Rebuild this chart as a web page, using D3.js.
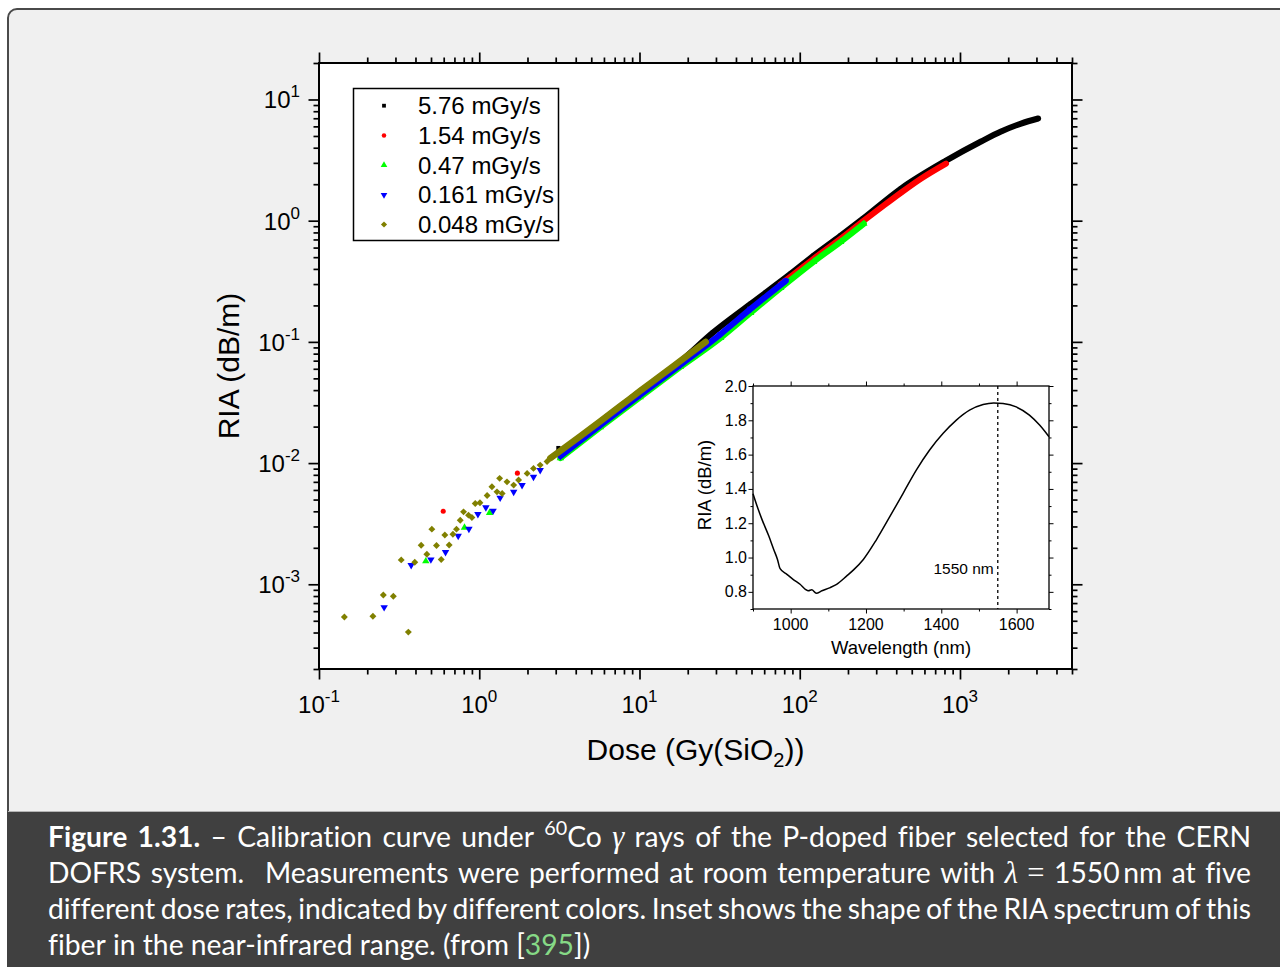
<!DOCTYPE html>
<html>
<head>
<meta charset="utf-8">
<script src="https://cdn.jsdelivr.net/npm/d3@7"></script>
<style>
  html, body { margin: 0; padding: 0; background: #ffffff; }
  svg { display: block; }
  .cap text { font-variant-ligatures: no-common-ligatures; }
</style>
</head>
<body>
<svg id="chart" width="1280" height="967"></svg>
<script>
// ------------------------------------------------------------------
// Data: RIA (dB/m) versus dose (Gy(SiO2)) for five dose rates
// ------------------------------------------------------------------
const seriesNames  = ["5.76 mGy/s", "1.54 mGy/s", "0.47 mGy/s", "0.161 mGy/s", "0.048 mGy/s"];
const seriesColors = ["#000000", "#ff0000", "#00ff00", "#0000ff", "#808000"];

// dense part of each measurement run: [dose, RIA]
const trace576 = [[5.71,0.0220],[10.1,0.0390],[18.0,0.0690],[28.6,0.1187],[49.4,0.206],
  [87.9,0.365],[122,0.514],[180,0.752],[248,1.039],[428,1.84],[818,3.13],[1353,4.50],[1804,5.44],
  [2406,6.33],[3073,6.97]];
const trace154 = [[76.1,0.299],[122,0.485],[180,0.710],[251,1.00],[321,1.28],[428,1.70],[570,2.22],[818,2.96]];
const trace047 = [[3.21,0.0110],[5.71,0.0198],[10.1,0.0351],[18.0,0.0621],[32.1,0.108],[49.4,0.174],
  [76.1,0.279],[122,0.458],[180,0.670],[251,0.944]];
const trace0161 = [[3.21,0.0114],[5.71,0.0206],[10.1,0.0365],[18.0,0.0646],[32.1,0.116],[49.4,0.187],[81.8,0.319]];
const trace0048 = [[2.78,0.0110],[4.28,0.0167],[5.71,0.0222],[7.61,0.0296],[10.1,0.0394],[13.5,0.0524],
  [18.0,0.0697],[25.9,0.100]];

// sparse low-dose points: [dose, RIA]
const scatter576 = [[3.12,0.0133]];
const scatter154 = [[0.596,0.00401],[1.73,0.00826]];
const scatter047 = [[0.464,0.00155],[0.809,0.00294],[1.16,0.00388]];
const scatter0161 = [[0.255,0.000646],[0.376,0.00144],[0.499,0.0016],[0.616,0.00184],[0.739,0.00251],
  [0.862,0.00286],[0.981,0.00379],[1.10,0.0043],[1.22,0.00404],[1.35,0.00517],[1.64,0.00579],
  [1.85,0.00658],[2.18,0.0077],[2.40,0.00875]];
const scatter0048 = [[0.144,0.000537],[0.217,0.000544],[0.252,0.000816],[0.291,0.000796],[0.361,0.000403],
  [0.326,0.00159],[0.396,0.00152],[0.434,0.0021],[0.471,0.00177],[0.506,0.00285],[0.541,0.00209],
  [0.579,0.0016],[0.610,0.00255],[0.649,0.00211],[0.685,0.00259],[0.721,0.00285],[0.761,0.00338],
  [0.798,0.00396],[0.857,0.00372],[0.900,0.00356],[0.944,0.00464],[1.01,0.0047],[1.12,0.0054],
  [1.20,0.00637],[1.29,0.00579],[1.34,0.00748],[1.39,0.00562],[1.49,0.007],[1.64,0.00658],
  [1.76,0.00724],[1.99,0.00822],[2.18,0.00904],[2.40,0.00962],[2.65,0.0103]];

const doseDomain = [0.1, 5000];
const riaDomain  = [2e-4, 20];
const doseTickExp = [-1, 0, 1, 2, 3];
const riaTickExp  = [-3, -2, -1, 0, 1];

// Inset: RIA spectrum
const insetWavelength = [900,911,924,942,955,965,972,990,1008,1025,1039,1047,1056,1068,1083,1105,1122,
  1149,1167,1193,1228,1264,1299,1334,1369,1405,1440,1475,1511,1539,1564,1599,1634,1661,1686];
const insetRIA = [1.372,1.299,1.221,1.125,1.047,0.989,0.935,0.902,0.870,0.844,0.815,0.806,0.812,0.792,
  0.806,0.825,0.844,0.893,0.928,0.989,1.105,1.241,1.376,1.511,1.627,1.724,1.801,1.859,1.892,1.901,
  1.898,1.878,1.830,1.772,1.704];
const insetXDomain = [900, 1686];
const insetYDomain = [0.7, 2.0];
const insetXMajor = [1000, 1200, 1400, 1600];
const insetXMinor = [900, 1100, 1300, 1500];
const insetYMajor = [0.8, 1.0, 1.2, 1.4, 1.6, 1.8, 2.0];
const insetYMinor = [0.7, 0.9, 1.1, 1.3, 1.5, 1.7, 1.9];
const markedWavelength = 1550;

// ------------------------------------------------------------------
const FONT = "'Liberation Sans', Arial, Helvetica, sans-serif";
const svg = d3.select("#chart");

// panel and caption background
svg.append("rect").attr("x", 8).attr("y", 9).attr("width", 1300).attr("height", 840)
  .attr("rx", 9).attr("fill", "#f0f0f0").attr("stroke", "#4a4a4a").attr("stroke-width", 2);
svg.append("rect").attr("x", 7).attr("y", 812).attr("width", 1300).attr("height", 200).attr("fill", "#404040");
svg.append("line").attr("x1", 8).attr("x2", 1280).attr("y1", 811.5).attr("y2", 811.5)
  .attr("stroke", "#b4b4b4").attr("stroke-width", 1);

// ------------------------------------------------------------------
// Main log-log plot
const P = { left: 319, right: 1072, top: 63, bottom: 669 };
const x = d3.scaleLog().domain(doseDomain).range([P.left, P.right]);
const y = d3.scaleLog().domain(riaDomain).range([P.bottom, P.top]);

svg.append("rect").attr("x", P.left).attr("y", P.top)
  .attr("width", P.right - P.left).attr("height", P.bottom - P.top).attr("fill", "#ffffff");

svg.append("clipPath").attr("id", "plotClip").append("rect")
  .attr("x", P.left).attr("y", P.top).attr("width", P.right - P.left).attr("height", P.bottom - P.top);

// marker shapes
const triDown = {
  draw(ctx, size) {
    const s = Math.sqrt(size * 4 / Math.sqrt(3)), h = s * Math.sqrt(3) / 2;
    ctx.moveTo(-s / 2, -h / 3); ctx.lineTo(s / 2, -h / 3); ctx.lineTo(0, 2 * h / 3); ctx.closePath();
  }
};
const diamond = {
  draw(ctx, size) {
    const r = Math.sqrt(size / 2);
    ctx.moveTo(0, -r); ctx.lineTo(r, 0); ctx.lineTo(0, r); ctx.lineTo(-r, 0); ctx.closePath();
  }
};
const symbolTypes = [d3.symbolSquare, d3.symbolCircle, d3.symbolTriangle, triDown, diamond];
const symbolSizes = [18, 20, 24, 24, 24];
const bandWidths  = [6, 6, 6, 6, 6.5];
const traces   = [trace576, trace154, trace047, trace0161, trace0048];
const scatters = [scatter576, scatter154, scatter047, scatter0161, scatter0048];

const dataG = svg.append("g").attr("clip-path", "url(#plotClip)");
const band = d3.line().x(d => x(d[0])).y(d => y(d[1])).curve(d3.curveMonotoneX);

seriesNames.forEach((name, i) => {
  const g = dataG.append("g");
  g.append("path").datum(traces[i]).attr("d", band)
    .attr("fill", "none").attr("stroke", seriesColors[i]).attr("stroke-width", bandWidths[i])
    .attr("stroke-linecap", "round").attr("stroke-linejoin", "round");
  const sym = d3.symbol().type(symbolTypes[i]).size(symbolSizes[i]);
  g.selectAll("path.pt").data(traces[i].concat(scatters[i])).join("path")
    .attr("class", "pt").attr("d", sym)
    .attr("transform", d => `translate(${x(d[0])},${y(d[1])})`)
    .attr("fill", seriesColors[i]);
});

// log ticks
function logTicks(domain) {
  const major = [], minor = [];
  const lo = domain[0] * (1 - 1e-9), hi = domain[1] * (1 + 1e-9);
  for (let e = Math.floor(Math.log10(domain[0])) - 1; e <= Math.ceil(Math.log10(domain[1])); e++) {
    for (let m = 1; m <= 9; m++) {
      const v = m * Math.pow(10, e);
      if (v >= lo && v <= hi) (m === 1 ? major : minor).push(v);
    }
  }
  return { major, minor };
}
const xt = logTicks(doseDomain), yt = logTicks(riaDomain);

function drawTicks(axisFn, scale, values, size, transform, width) {
  const g = svg.append("g").attr("transform", transform)
    .call(axisFn(scale).tickValues(values).tickSize(size).tickSizeOuter(0).tickFormat(""));
  g.select(".domain").remove();
  g.selectAll("line").attr("stroke", "#000").attr("stroke-width", width);
}
[[xt.major, 10.5], [xt.minor, 5.5]].forEach(([v, s]) => {
  drawTicks(d3.axisBottom, x, v, s, `translate(0,${P.bottom})`, 1.7);
  drawTicks(d3.axisTop, x, v, s, `translate(0,${P.top})`, 1.7);
});
[[yt.major, 10.5], [yt.minor, 5.5]].forEach(([v, s]) => {
  drawTicks(d3.axisLeft, y, v, s, `translate(${P.left},0)`, 1.7);
  drawTicks(d3.axisRight, y, v, s, `translate(${P.right},0)`, 1.7);
});

// frame
svg.append("rect").attr("x", P.left).attr("y", P.top)
  .attr("width", P.right - P.left).attr("height", P.bottom - P.top)
  .attr("fill", "none").attr("stroke", "#000").attr("stroke-width", 2);

// tick labels: 10^n
function powerLabel(xPos, yPos, exp, anchor) {
  const t = svg.append("text").attr("x", xPos).attr("y", yPos).attr("text-anchor", anchor)
    .attr("font-family", FONT).attr("font-size", 24).attr("fill", "#000");
  t.append("tspan").text("10");
  t.append("tspan").attr("font-size", 17).attr("dy", -11).text(exp < 0 ? "-" + (-exp) : String(exp));
}
doseTickExp.forEach(e => powerLabel(x(Math.pow(10, e)), 713, e, "middle"));
riaTickExp.forEach(e => powerLabel(300, y(Math.pow(10, e)) + 9, e, "end"));

// axis titles
svg.append("text").attr("transform", `translate(239,${(P.top + P.bottom) / 2}) rotate(-90)`)
  .attr("text-anchor", "middle").attr("font-family", FONT).attr("font-size", 30).text("RIA (dB/m)");
const xTitle = svg.append("text").attr("x", (P.left + P.right) / 2).attr("y", 760)
  .attr("text-anchor", "middle").attr("font-family", FONT).attr("font-size", 30);
xTitle.append("tspan").text("Dose (Gy(SiO");
xTitle.append("tspan").attr("font-size", 20).attr("dy", 7).text("2");
xTitle.append("tspan").attr("dy", -7).text("))");

// legend
const L = { x: 353.5, y: 88.5, w: 205, h: 152, symX: 384, textX: 418, firstY: 105.7, step: 29.7 };
svg.append("rect").attr("x", L.x).attr("y", L.y).attr("width", L.w).attr("height", L.h)
  .attr("fill", "#fff").attr("stroke", "#000").attr("stroke-width", 1.5);
seriesNames.forEach((name, i) => {
  const cy = L.firstY + i * L.step;
  svg.append("path").attr("d", d3.symbol().type(symbolTypes[i]).size(symbolSizes[i] * 0.8)())
    .attr("transform", `translate(${L.symX},${cy})`).attr("fill", seriesColors[i]);
  svg.append("text").attr("x", L.textX).attr("y", cy + 8.5).attr("font-family", FONT)
    .attr("font-size", 24).attr("fill", "#000").text(name);
});

// ------------------------------------------------------------------
// Inset: RIA spectrum
const I = { left: 753, right: 1049, top: 386, bottom: 609 };
const xi = d3.scaleLinear().domain(insetXDomain).range([I.left, I.right]);
const yi = d3.scaleLinear().domain(insetYDomain).range([I.bottom, I.top]);

svg.append("rect").attr("x", I.left).attr("y", I.top)
  .attr("width", I.right - I.left).attr("height", I.bottom - I.top).attr("fill", "#fff");

svg.append("path").datum(insetWavelength.map((w, k) => [w, insetRIA[k]]))
  .attr("d", d3.line().x(d => xi(d[0])).y(d => yi(d[1])).curve(d3.curveMonotoneX))
  .attr("fill", "none").attr("stroke", "#000").attr("stroke-width", 1.5);

svg.append("line").attr("x1", xi(markedWavelength)).attr("x2", xi(markedWavelength))
  .attr("y1", I.top).attr("y2", I.bottom)
  .attr("stroke", "#000").attr("stroke-width", 1.3).attr("stroke-dasharray", "3,3");
svg.append("text").attr("x", xi(markedWavelength) - 4).attr("y", 574).attr("text-anchor", "end")
  .attr("font-family", FONT).attr("font-size", 15.5).text(markedWavelength + " nm");

[[insetXMajor, 4.5], [insetXMinor, 2.5]].forEach(([v, s]) => {
  drawTicks(d3.axisBottom, xi, v, s, `translate(0,${I.bottom})`, 1);
  drawTicks(d3.axisTop, xi, v, s, `translate(0,${I.top})`, 1);
});
[[insetYMajor, 4.5], [insetYMinor, 2.5]].forEach(([v, s]) => {
  drawTicks(d3.axisLeft, yi, v, s, `translate(${I.left},0)`, 1);
  drawTicks(d3.axisRight, yi, v, s, `translate(${I.right},0)`, 1);
});
svg.append("rect").attr("x", I.left).attr("y", I.top)
  .attr("width", I.right - I.left).attr("height", I.bottom - I.top)
  .attr("fill", "none").attr("stroke", "#000").attr("stroke-width", 1.3);

insetXMajor.forEach(v => svg.append("text").attr("x", xi(v)).attr("y", 630).attr("text-anchor", "middle")
  .attr("font-family", FONT).attr("font-size", 16).text(v));
insetYMajor.forEach(v => svg.append("text").attr("x", 747).attr("y", yi(v) + 5.5).attr("text-anchor", "end")
  .attr("font-family", FONT).attr("font-size", 16).text(v.toFixed(1)));
svg.append("text").attr("x", (I.left + I.right) / 2).attr("y", 654).attr("text-anchor", "middle")
  .attr("font-family", FONT).attr("font-size", 18.5).text("Wavelength (nm)");
svg.append("text").attr("transform", "translate(711,485) rotate(-90)").attr("text-anchor", "middle")
  .attr("font-family", FONT).attr("font-size", 18.5).text("RIA (dB/m)");

// ------------------------------------------------------------------
// Caption (justified lines)
const CAP_FONT = "Lato, 'Open Sans', sans-serif";
const capLeft = 48, capRight = 1251;
const capBaselines = [847, 883, 919, 955];
const W = (...segs) => ({ segs: segs.map(s => typeof s === "string" ? { t: s, st: "" } : { t: s[0], st: s[1] }) });
const captionLines = [
  { justify: true, words: [W(["Figure", "b"]), W(["1.31.", "b"]), W("–"), W("Calibration"), W("curve"), W("under"),
    W(["60", "sup"], "Co"), W(["γ", "m"]), W("rays"), W("of"), W("the"), W("P-doped"), W("fiber"), W("selected"),
    W("for"), W("the"), W("CERN")] },
  { justify: true, words: [W("DOFRS"), Object.assign(W("system."), { gap: 2.2 }), W("Measurements"), W("were"),
    W("performed"), W("at"), W("room"), W("temperature"), W("with"), W(["λ", "m"]), W(["=", "r"]),
    W("1550\u2009nm"), W("at"), W("five")] },
  { justify: true, words: [W("different"), W("dose"), W("rates,"), W("indicated"), W("by"), W("different"),
    W("colors."), W("Inset"), W("shows"), W("the"), W("shape"), W("of"), W("the"), W("RIA"), W("spectrum"),
    W("of"), W("this")] },
  { justify: false, words: [W("fiber"), W("in"), W("the"), W("near-infrared"), W("range."),
    W("(from"), W("[", ["395", "link"], "])")] }
];

const capG = svg.append("g").attr("class", "cap");
function renderWord(word, xPos, yBase, fs) {
  const t = capG.append("text").attr("x", xPos).attr("y", yBase).attr("font-size", fs)
    .attr("fill", "#ffffff").attr("font-family", CAP_FONT);
  let shift = 0;
  word.segs.forEach(s => {
    const ts = t.append("tspan").text(s.t);
    const target = s.st === "sup" ? -0.42 * fs : 0;
    if (target !== shift) { ts.attr("dy", target - shift); shift = target; }
    if (s.st === "b") ts.attr("font-weight", "bold");
    if (s.st === "sup") ts.attr("font-size", fs * 0.7);
    if (s.st === "m") ts.attr("font-family", "'Liberation Serif', serif").attr("font-style", "italic").attr("font-size", fs * 1.08);
    if (s.st === "r") ts.attr("font-family", "'Liberation Serif', serif").attr("font-size", fs * 1.08);
    if (s.st === "link") ts.attr("fill", "#86d986");
  });
  return t;
}

// size the caption so the last (unjustified) line spans its natural width
const probe = capG.append("text").attr("font-family", CAP_FONT).attr("font-size", 24)
  .text("fiber in the near-infrared range. (from [395])");
const capFs = 24 * 542 / probe.node().getComputedTextLength();
probe.remove();
const sp1 = capG.append("text").attr("font-family", CAP_FONT).attr("font-size", capFs).text("a");
const sp2 = capG.append("text").attr("font-family", CAP_FONT).attr("font-size", capFs).text("a\u00a0a");
const spaceW = sp2.node().getComputedTextLength() - 2 * sp1.node().getComputedTextLength();
sp1.remove(); sp2.remove();

captionLines.forEach((line, li) => {
  const nodes = line.words.map(w => renderWord(w, 0, capBaselines[li], capFs));
  const widths = nodes.map(n => n.node().getComputedTextLength());
  const gapWeights = line.words.slice(0, -1).map(w => w.gap || 1);
  const totalWeight = d3.sum(gapWeights);
  const gapUnit = line.justify ? (capRight - capLeft - d3.sum(widths)) / totalWeight : spaceW;
  let cx = capLeft;
  nodes.forEach((n, k) => {
    n.attr("x", cx);
    cx += widths[k] + (k < gapWeights.length ? gapWeights[k] * gapUnit : 0);
  });
});
</script>
</body>
</html>
